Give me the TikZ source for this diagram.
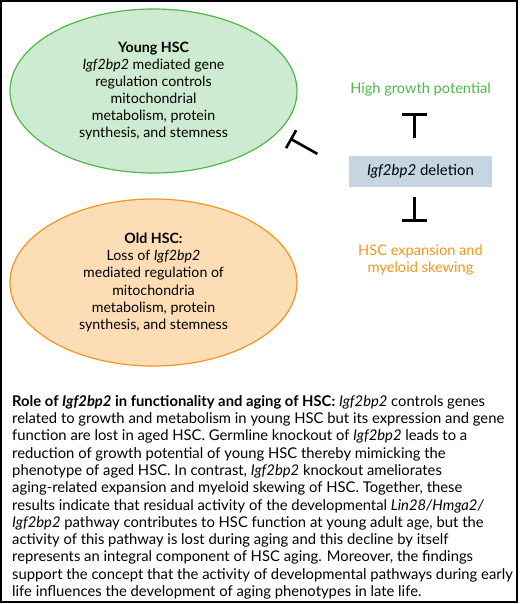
\documentclass[tikz,border=0pt]{standalone}
\usepackage{fontspec}
\setmainfont{Lato}
\usepackage{xcolor}
\usetikzlibrary{shapes.geometric}
\usetikzlibrary{arrows.meta}
\usetikzlibrary{positioning}

\definecolor{younggreen}{RGB}{77,184,72}
\definecolor{youngfill}{RGB}{205,235,208}
\definecolor{oldorange}{RGB}{247,148,29}
\definecolor{oldfill}{RGB}{253,221,181}
\definecolor{delfill}{RGB}{197,213,226}

\begin{document}
\begin{tikzpicture}[
    x=1pt, y=-1pt,
    every node/.style={font=\fontsize{14.2}{17.15}\selectfont, inner sep=0pt},
    hsc/.style={ellipse, align=center, line width=1.2pt, minimum width=287pt},
    younghsc/.style={hsc, draw=younggreen, fill=youngfill, minimum height=164pt},
    oldhsc/.style={hsc, draw=oldorange, fill=oldfill, minimum height=167pt},
    delbox/.style={rectangle, fill=delfill, minimum width=143pt, minimum height=31pt,
      font=\fontsize{15}{17}\selectfont},
    sidetext/.style={font=\fontsize{14.6}{17}\selectfont},
    inhib/.style={-{Bar[width=25pt]}, line width=2.6pt},
    inhibshort/.style={-{Bar[width=20.5pt]}, line width=2.6pt},
  ]

  % Frame
  \useasboundingbox (0,0) rectangle (520,604);
  \draw[line width=1.6pt] (0.8,0.8) rectangle (517,602);

  % Nodes
  \node[younghsc] (young) at (153.5,91)
    {\textbf{Young HSC}\\\textit{Igf2bp2} mediated gene\\regulation controls\\
     mitochondrial\\metabolism, protein\\synthesis, and stemness};
  \node[oldhsc] (old) at (153.5,282.5)
    {\textbf{Old HSC:}\\Loss of \textit{Igf2bp2}\\mediated regulation of\\
     mitochondria\\metabolism, protein\\synthesis, and stemness};
  \node[delbox] (del) at (420.5,171.5) {\textit{Igf2bp2} deletion};
  \node[sidetext, text=younggreen] (high) at (420.5,89.5) {High growth potential};
  \node[sidetext, text=oldorange, align=center] (expand) at (420.5,259.5)
    {HSC expansion and\\myeloid skewing};

  % Bar ends
  \coordinate (hbar) at (414.5,113);
  \coordinate (ebar) at (414.5,222);
  \coordinate (ybar) at (290,138.5);

  % Inhibition edges
  \draw[inhib, shorten <=18pt] (del.north -| hbar) -- (hbar);
  \draw[inhib, shorten <=10pt] (del.south -| ebar) -- (ebar);
  \draw[inhibshort, shorten <=36pt] (del.west) -- (ybar);

  % Caption
  \node[anchor=north west, align=left, font=\fontsize{14.8}{17.3}\selectfont]
    (caption) at (12,395)
    {\textbf{Role of \textit{Igf2bp2} in functionality and aging of HSC:} \textit{Igf2bp2} controls genes\\
     related to growth and metabolism in young HSC but its expression and gene\\
     function are lost in aged HSC. Germline knockout of \textit{Igf2bp2} leads to a\\
     reduction of growth potential of young HSC thereby mimicking the\\
     phenotype of aged HSC. In contrast, \textit{Igf2bp2} knockout ameliorates\\
     aging-related expansion and myeloid skewing of HSC. Together, these\\
     results indicate that residual activity of the developmental \textit{Lin28/Hmga2/}\\
     \textit{Igf2bp2} pathway contributes to HSC function at young adult age, but the\\
     activity of this pathway is lost during aging and this decline by itself\\
     represents an integral component of HSC aging. Moreover, the findings\\
     support the concept that the activity of developmental pathways during early\\
     life influences the development of aging phenotypes in late life.};

\end{tikzpicture}
\end{document}
